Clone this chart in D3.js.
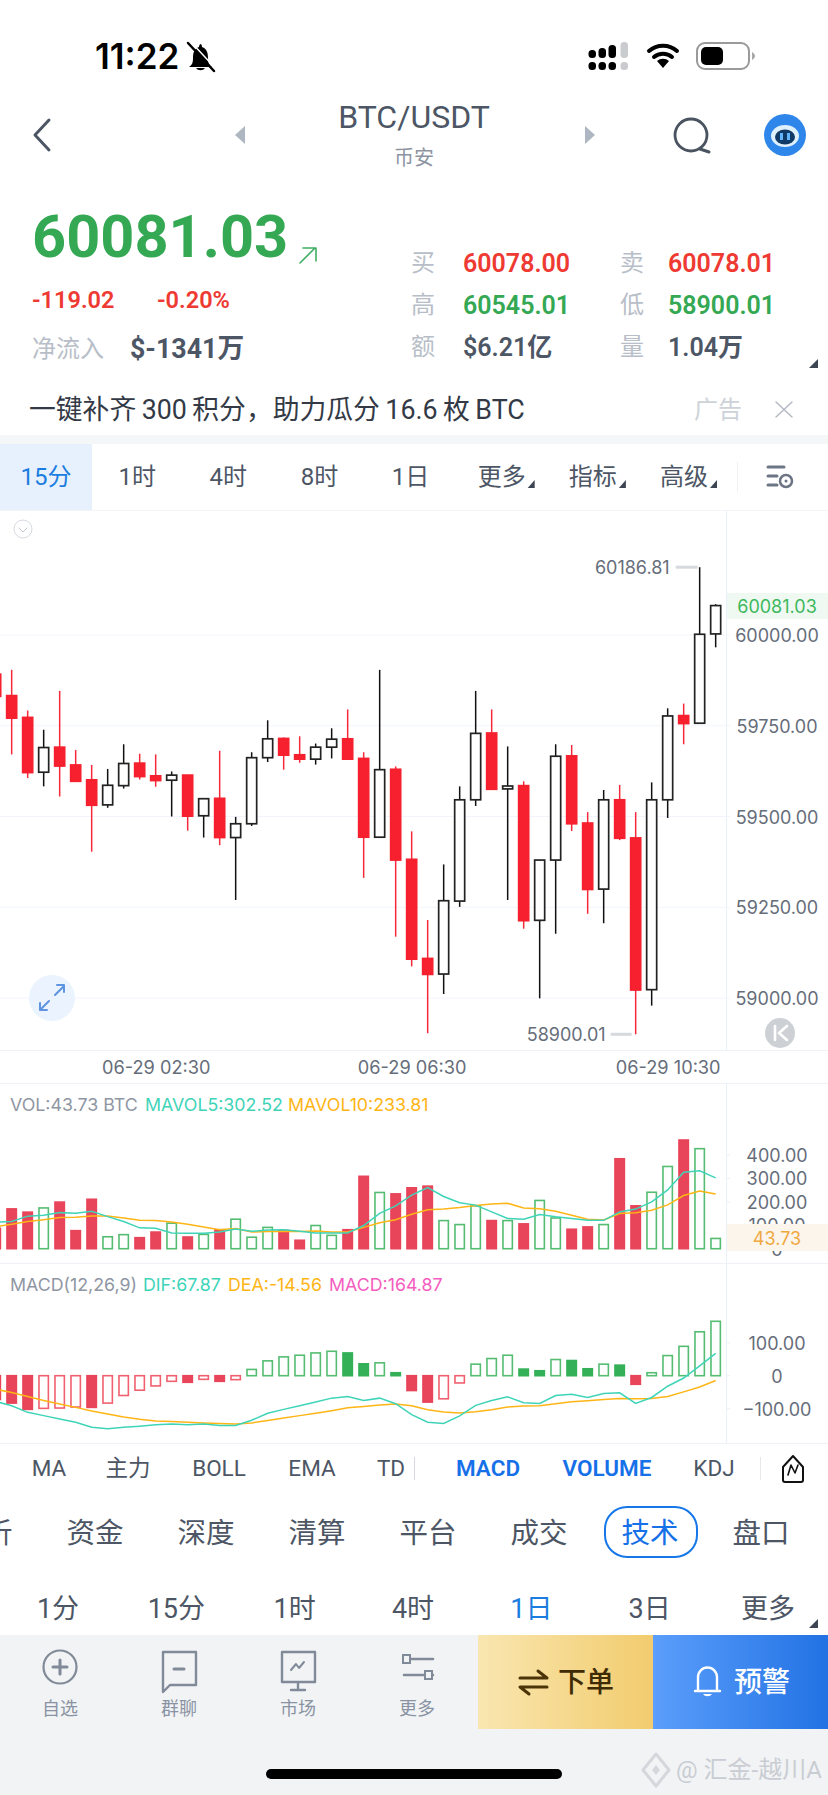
<!DOCTYPE html>
<html>
<head>
<meta charset="utf-8">
<script src="https://cdn.jsdelivr.net/npm/d3@7"></script>
<style>
  html, body { margin: 0; padding: 0; background: #fff; }
  svg { display: block; }
</style>
</head>
<body>
<svg id="chart"></svg>
<script>
// Candles, oldest first. The first one sits mostly off the left edge.
const candleOpen = [59892,59833,59773,59622,59691,59642,59601,59532,59585,59647,59612,59600,59614,59502,59550,59442,59480,59662,59715,59670,59658,59691,59714,59660,59443,59630,59382,59109,59066,59267,59546,59730,59576,59585,59214,59380,59667,59482,59300,59546,59441,59023,59546,59778,59757,60003];
const candleHigh = [59892,59904,59792,59739,59846,59683,59642,59631,59699,59673,59671,59624,59614,59549,59681,59499,59677,59765,59718,59721,59701,59743,59795,59677,59904,59638,59459,59215,59368,59583,59846,59795,59693,59597,59380,59699,59697,59512,59573,59587,59512,59594,59798,59811,60186.81,60085];
const candleLow = [59831,59671,59606,59583,59555,59597,59403,59524,59577,59602,59582,59500,59461,59442,59421,59270,59474,59650,59629,59648,59643,59660,59658,59331,59443,59169,59087,58903,59011,59251,59529,59575,59270,59191,58999,59177,59460,59232,59206,59435,58900.01,58979,59496,59699,59757,59966];
const candleClose = [59831,59771,59621,59690,59639,59597,59531,59586,59646,59610,59599,59614,59501,59549,59442,59480,59662,59714,59669,59658,59691,59713,59658,59443,59629,59380,59107,59065,59268,59546,59729,59575,59584,59213,59380,59666,59480,59299,59546,59440,59022,59546,59777,59756,60002,60081.03];

const volume = [87,170,156,174,199,77,211,51,60,47,71,109,50,61,81,126,49,91,78,36,99,57,81,309,240,234,260,267,120,103,183,120,120,106,206,131,83,93,103,384,183,241,351,464,427,43.73];
const mavol5 = [113,116,139,143,154,151,160,137,116,89,87,67,66,66,71,84,74,80,81,74,67,67,67,99,151,183,229,261,223,196,186,157,129,126,146,136,129,121,121,157,169,200,251,326,333,302.52];
const mavol10 = [94,104,116,124,133,134,140,140,131,121,120,114,104,93,81,86,71,73,74,73,76,71,71,91,111,124,147,166,170,176,184,191,194,174,171,160,143,126,123,150,153,164,187,227,246,233.81];

const macd = [-72,-83,-102,-99,-98,-95,-96,-83,-60,-44,-31,-17,-20,-11,-17,-12,19,45,57,62,69,74,69,36,39,9,-45,-80,-70,-22,35,52,62,20,15,49,46,21,35,32,-26,9,61,89,133,164.87];
const dif = [-78,-91,-111,-121,-131,-141,-156,-161,-156,-153,-149,-146,-149,-146,-151,-151,-135,-114,-102,-91,-80,-68,-63,-75,-68,-85,-118,-141,-145,-122,-90,-75,-64,-82,-84,-60,-56,-66,-54,-52,-84,-66,-32,-7,30,67.87];
const dea = [-41,-51,-63,-75,-86,-96,-107,-116,-125,-132,-137,-139,-141,-143,-145,-146,-143,-136,-128,-121,-114,-106,-97,-93,-89,-86,-91,-103,-110,-113,-109,-103,-95,-92,-91,-85,-79,-76,-72,-69,-70,-69,-63,-49,-34,-14.56];

const priceTicks = [59000,59250,59500,59750,60000];
const volumeTicks = [0,100,200,300,400];
const macdTicks = [-100,0,100];
const timeTickIndex = [10,26,42];
const timeTickLabels = ['06-29 02:30','06-29 06:30','06-29 10:30'];

const periodTabs = ['15分','1时','4时','8时','1日','更多','指标','高级'];
const indicatorTabs = ['MA','主力','BOLL','EMA','TD','MACD','VOLUME','KDJ'];
const activeIndicators = ['MACD','VOLUME'];
const sectionTabs = ['分析','资金','深度','清算','平台','成交','技术','盘口'];
const rangeTabs = ['1分','15分','1时','4时','1日','3日','更多'];
const footerTabs = ['自选','群聊','市场','更多'];

const width = 828, height = 1795;
const gray = '#4d5665', muted = '#b8bec8', red = '#ee3a32', green = '#34a853';
const cnFont = 'Roboto, "Noto Sans CJK SC", sans-serif';

const svg = d3.select('#chart').attr('width', width).attr('height', height);

const defs = svg.append('defs');
function gradient(id, from, to) {
    const g = defs.append('linearGradient').attr('id', id);
    g.append('stop').attr('offset', '0%').attr('stop-color', from);
    g.append('stop').attr('offset', '100%').attr('stop-color', to);
}
gradient('gold', '#f9e6b0', '#f2cc6e');
gradient('blue', '#5b9efb', '#2272e4');

function label(x, y, txt, size, color, opts = {}) {
    return svg.append('text')
        .attr('x', x).attr('y', y)
        .attr('dominant-baseline', 'central')
        .attr('text-anchor', opts.anchor || 'middle')
        .attr('font-size', size)
        .attr('font-weight', opts.weight || 400)
        .attr('fill', color)
        .style('font-family', opts.font || cnFont)
        .text(txt);
}

function box(x, y, w, h, fill) {
    return svg.append('rect').attr('x', x).attr('y', y).attr('width', w).attr('height', h).attr('fill', fill);
}

function icon(d, fill, stroke, sw) {
    return svg.append('path').attr('d', d).attr('fill', fill || 'none')
        .attr('stroke', stroke || 'none').attr('stroke-width', sw || 0)
        .attr('stroke-linecap', 'round').attr('stroke-linejoin', 'round');
}

// ---- status bar ----
label(95, 56, '11:22', 35, '#000', { anchor: 'start', weight: 600, font: 'Inter, sans-serif' });
icon('M201 44c-1 0-2 1-2 3-5 2-6 6-6 11 0 5-1 7-4 9h23c-3-2-4-4-4-9 0-5-1-9-6-11 0-2-1-3-1-3z', '#000');
icon('M196 68a5 4 0 0 0 9 0z', '#000');
icon('M188 43l26 28', 'none', '#000', 2.5);
icon('M191 42l26 28', 'none', '#fff', 1.5);

const sigCols = [592, 602, 612, 624];
const sigTops = [50, 48, 45, 42];
sigCols.forEach((x, c) => {
    const col = c === 3 ? '#c9cbce' : '#000';
    svg.append('rect').attr('x', x - 3.5).attr('y', sigTops[c]).attr('width', 7.5).attr('height', 58 - sigTops[c]).attr('rx', 3.5).attr('fill', col);
    svg.append('rect').attr('x', x - 3.5).attr('y', 62).attr('width', 7.5).attr('height', 8).attr('rx', 3.5).attr('fill', col);
});
icon('M649 51a21 21 0 0 1 28 0M654 57a14 14 0 0 1 18 0', 'none', '#000', 4);
icon('M657 61a9 9 0 0 1 12 0l-6 7z', '#000');
svg.append('rect').attr('x', 697).attr('y', 43).attr('width', 52).attr('height', 26).attr('rx', 8).attr('fill', '#fff').attr('stroke', '#9a9a9a').attr('stroke-width', 2);
svg.append('rect').attr('x', 701).attr('y', 47).attr('width', 22).attr('height', 18).attr('rx', 5).attr('fill', '#000');
icon('M752 52c2 1 3 3 3 4s-1 3-3 4z', '#a8a8a8');

// ---- title row ----
icon('M49 120L35 135L49 150', 'none', gray, 3);
icon('M245 126v18l-10-9z', '#aeb6c2');
icon('M585 126v18l10-9z', '#aeb6c2');
label(414, 117, 'BTC/USDT', 32, gray, { weight: 400 });
label(414, 158, '币安', 20, '#8c94a2');
svg.append('circle').attr('cx', 691).attr('cy', 135).attr('r', 16).attr('fill', 'none').attr('stroke', '#4a5360').attr('stroke-width', 2.8);
icon('M700 149l9 3', 'none', '#4a5360', 3);
svg.append('circle').attr('cx', 785).attr('cy', 135).attr('r', 21).attr('fill', '#2f86ea');
svg.append('ellipse').attr('cx', 785).attr('cy', 136).attr('rx', 14).attr('ry', 11).attr('fill', '#dff0fd');
svg.append('ellipse').attr('cx', 785).attr('cy', 137).attr('rx', 10).attr('ry', 7.5).attr('fill', '#123a66');
svg.append('rect').attr('x', 780).attr('y', 133).attr('width', 3).attr('height', 7).attr('fill', '#5fb6ff');
svg.append('rect').attr('x', 787).attr('y', 133).attr('width', 3).attr('height', 7).attr('fill', '#5fb6ff');

// ---- quote block ----
label(32, 237, '60081.03', 59.5, green, { anchor: 'start', weight: 700 });
icon('M300 263L315 248M303 248H316V261', 'none', '#3fae62', 1.6);
label(32, 300, '-119.02', 23.5, red, { anchor: 'start', weight: 600 });
label(157, 300, '-0.20%', 23.5, red, { anchor: 'start', weight: 600 });
label(32, 349, '净流入', 24, muted, { anchor: 'start' });
label(130, 349, '$-1341万', 26.8, gray, { anchor: 'start', weight: 700 });

label(411, 263, '买', 24, muted, { anchor: 'start' });
label(463, 263, '60078.00', 25, red, { anchor: 'start', weight: 600 });
label(620, 263, '卖', 24, muted, { anchor: 'start' });
label(668, 263, '60078.01', 25, red, { anchor: 'start', weight: 600 });
label(411, 305, '高', 24, muted, { anchor: 'start' });
label(463, 305, '60545.01', 25, green, { anchor: 'start', weight: 600 });
label(620, 305, '低', 24, muted, { anchor: 'start' });
label(668, 305, '58900.01', 25, green, { anchor: 'start', weight: 600 });
label(411, 347, '额', 24, muted, { anchor: 'start' });
label(463, 347, '$6.21亿', 25, gray, { anchor: 'start', weight: 600 });
label(620, 347, '量', 24, muted, { anchor: 'start' });
label(668, 347, '1.04万', 25, gray, { anchor: 'start', weight: 600 });
icon('M818 359v9h-9z', '#3d4552');

// ---- ad strip ----
label(29, 410, '一键补齐\u2009300\u2009积分，助力瓜分\u200916.6\u2009枚\u2009BTC', 26.8, '#333a46', { anchor: 'start' });
label(718, 410, '广告', 24, '#cdd2d9');
icon('M776 402L792 417M792 402L776 417', 'none', '#b4bac3', 1.5);
box(0, 435, width, 9, '#f5f6f7');

// ---- period tabs ----
box(0, 444, 92, 66, '#e7f1fd');
const tabX = d3.scalePoint().domain(periodTabs).range([46, 684]);
periodTabs.forEach((d, i) => label(tabX(d), 477, d, 24, i === 0 ? '#1b7de0' : gray));
periodTabs.slice(5).forEach(d => icon(`M${tabX(d) + 33} 480v8h-7z`, '#3d4552'));
box(737, 462, 1, 30, '#eef0f3');
icon('M768 467h16M768 476h9M768 485h9', 'none', '#6c7583', 3);
svg.append('circle').attr('cx', 786).attr('cy', 481).attr('r', 6).attr('fill', 'none').attr('stroke', '#6c7583').attr('stroke-width', 2.5);
svg.append('circle').attr('cx', 786).attr('cy', 481).attr('r', 1.5).attr('fill', '#6c7583');

// ---- scales ----
const axisX = 726;
const x = d3.scaleLinear().domain([0, 45]).range([-4.33, 715.67]);
const yPrice = d3.scaleLinear().domain([59000, 60000]).range([998, 635]);
const yVol = d3.scaleLinear().domain([0, 400]).range([1248.7, 1155]);
const yMacd = d3.scaleLinear().domain([-100, 100]).range([1408.7, 1342.7]);
const bodyW = 10;

// panel frame
[1050, 1083, 1263, 1443].forEach(y => box(0, y, width, 1, '#eef2f7'));
box(axisX, 510, 1, 540, '#e8f0fa');
box(axisX, 1083, 1, 360, '#e8f0fa');
box(0, 510, width, 1, '#f2f4f7');

// ---- price panel ----
svg.append('g').selectAll('line').data(priceTicks).join('line')
    .attr('x1', 0).attr('x2', axisX + 4)
    .attr('y1', d => yPrice(d)).attr('y2', d => yPrice(d))
    .attr('stroke', '#f1f5fb').attr('stroke-width', 1);

svg.append('circle').attr('cx', 23).attr('cy', 529).attr('r', 9).attr('fill', 'none').attr('stroke', '#d6dae0').attr('stroke-width', 1);
icon('M19 528l4 4l4-4', 'none', '#c3c8d0', 1);
svg.append('circle').attr('cx', 52).attr('cy', 998).attr('r', 23).attr('fill', '#eaf3fe');
icon('M55 995l9-9M57 985h7v7M49 1001l-9 9M40 1003v7h7', 'none', '#5e94e0', 2);

const candles = candleOpen.map((o, i) => ({
    i, open: o, high: candleHigh[i], low: candleLow[i], close: candleClose[i], up: candleClose[i] >= o
}));

const candleG = svg.append('g');
candleG.selectAll('.wick').data(candles).join('line')
    .attr('class', 'wick')
    .attr('x1', d => x(d.i)).attr('x2', d => x(d.i))
    .attr('y1', d => yPrice(d.high)).attr('y2', d => yPrice(d.low))
    .attr('stroke', d => d.up ? '#111' : '#f5293a').attr('stroke-width', 1.5);
candleG.selectAll('.body').data(candles).join('rect')
    .attr('class', 'body')
    .attr('x', d => x(d.i) - bodyW / 2)
    .attr('width', bodyW)
    .attr('y', d => yPrice(Math.max(d.open, d.close)))
    .attr('height', d => Math.abs(yPrice(d.open) - yPrice(d.close)))
    .attr('fill', d => d.up ? '#fff' : '#f6202e')
    .attr('stroke', d => d.up ? '#222' : '#f6202e').attr('stroke-width', 1.7);

const axisFont = 'Inter, sans-serif';
function styleAxis(g, cx) {
    g.select('.domain').remove();
    g.selectAll('.tick line').remove();
    g.selectAll('.tick text')
        .attr('x', cx).attr('dy', null).attr('dominant-baseline', 'central')
        .attr('text-anchor', 'middle').attr('fill', '#666d7a')
        .attr('font-size', 18).style('font-family', axisFont);
}
svg.append('g').attr('transform', `translate(${axisX},0)`)
    .call(d3.axisRight(yPrice).tickValues(priceTicks).tickFormat(d3.format('.2f')))
    .call(g => styleAxis(g, 51));

// current price badge
box(axisX + 1, 593, width - axisX, 26, '#eff8f1');
label(777, 606, '60081.03', 18, '#3cb85d', { font: axisFont });

// extreme price markers
const hiIdx = d3.maxIndex(candles, d => d.high);
const loIdx = d3.minIndex(candles, d => d.low);
label(x(hiIdx) - 30, yPrice(candles[hiIdx].high), d3.format('.2f')(candles[hiIdx].high), 18, '#666d7a', { anchor: 'end', font: axisFont });
box(x(hiIdx) - 24, yPrice(candles[hiIdx].high) - 1.5, 22, 3, '#d6d9dd');
label(x(loIdx) - 30, yPrice(candles[loIdx].low), d3.format('.2f')(candles[loIdx].low), 18, '#666d7a', { anchor: 'end', font: axisFont });
box(x(loIdx) - 25, yPrice(candles[loIdx].low) - 1.5, 21, 3, '#d6d9dd');

svg.append('circle').attr('cx', 780).attr('cy', 1033).attr('r', 15).attr('fill', '#cdd0d4');
icon('M775 1026v14M787 1026l-8 7l8 7', 'none', '#fff', 2.6);

// time axis
svg.append('g').attr('transform', 'translate(0,1067)')
    .call(d3.axisBottom(x).tickValues(timeTickIndex).tickFormat((d, i) => timeTickLabels[i]))
    .call(g => {
        g.select('.domain').remove();
        g.selectAll('.tick line').remove();
        g.selectAll('.tick text').attr('y', 0).attr('dy', null).attr('dominant-baseline', 'central')
            .attr('fill', '#666d7a').attr('font-size', 18.2).style('font-family', axisFont);
    });

// ---- volume panel ----
function legend(y, items) {
    items.forEach(it => label(it[0], y, it[1], 17.8, it[2], { anchor: 'start', font: axisFont }));
}
legend(1104, [
    [10, 'VOL:43.73 BTC', '#8f96a3'],
    [145, 'MAVOL5:302.52', '#3fd4b8'],
    [288, 'MAVOL10:233.81', '#ffb516']
]);

const barW = 9.4;
svg.append('g').selectAll('rect').data(volume).join('rect')
    .attr('x', (d, i) => x(i) - barW / 2).attr('width', barW)
    .attr('y', d => yVol(d)).attr('height', d => yVol(0) - yVol(d))
    .attr('fill', (d, i) => candles[i].up ? '#fff' : '#e8455a')
    .attr('stroke', (d, i) => candles[i].up ? '#55bd72' : '#e8455a').attr('stroke-width', 1.6);

const volLine = d3.line().x((d, i) => x(i)).y(d => yVol(d));
svg.append('path').attr('d', volLine(mavol10)).attr('fill', 'none').attr('stroke', '#ffb516').attr('stroke-width', 1.5);
svg.append('path').attr('d', volLine(mavol5)).attr('fill', 'none').attr('stroke', '#3fd4b8').attr('stroke-width', 1.5);

svg.append('g').attr('transform', `translate(${axisX},0)`)
    .call(d3.axisRight(yVol).tickValues(volumeTicks).tickFormat(d => d === 0 ? '0' : d3.format('.2f')(d)))
    .call(g => styleAxis(g, 51));
box(axisX + 1, 1224, width - axisX, 27, '#fbf5ec');
label(777, 1238, '43.73', 18, '#f0a840', { font: axisFont });

// ---- macd panel ----
legend(1284, [
    [10, 'MACD(12,26,9)', '#8f96a3'],
    [143, 'DIF:67.87', '#3fd4b8'],
    [228, 'DEA:-14.56', '#ffb516'],
    [329, 'MACD:164.87', '#f55cc0']
]);

svg.append('g').selectAll('rect').data(macd).join('rect')
    .attr('x', (d, i) => x(i) - barW / 2).attr('width', barW)
    .attr('y', d => Math.min(yMacd(d), yMacd(0)))
    .attr('height', d => Math.abs(yMacd(d) - yMacd(0)))
    // solid bars are the ones falling against the previous bar
    .attr('fill', (d, i) => (i > 0 && d >= macd[i - 1]) ? '#fff' : (d >= 0 ? '#34b058' : '#e8455a'))
    .attr('stroke', (d, i) => {
        const solid = !(i > 0 && d >= macd[i - 1]);
        if (d >= 0) return solid ? '#34b058' : '#55bd72';
        return solid ? '#e8455a' : '#f0606f';
    })
    .attr('stroke-width', 1.6);

const macdLine = d3.line().x((d, i) => x(i)).y(d => yMacd(d));
svg.append('path').attr('d', macdLine(dea)).attr('fill', 'none').attr('stroke', '#ffb516').attr('stroke-width', 1.5);
svg.append('path').attr('d', macdLine(dif)).attr('fill', 'none').attr('stroke', '#3fd4b8').attr('stroke-width', 1.5);

svg.append('g').attr('transform', `translate(${axisX},0)`)
    .call(d3.axisRight(yMacd).tickValues(macdTicks).tickFormat(d => d === 0 ? '0' : d3.format('.2f')(d)))
    .call(g => styleAxis(g, 51));

// small axis ticks beside the lower panels
svg.append('g').selectAll('line')
    .data(volumeTicks.slice(2).map(d => yVol(d)).concat(macdTicks.map(d => yMacd(d))))
    .join('line')
    .attr('x1', axisX).attr('x2', axisX + 4).attr('y1', d => d).attr('y2', d => d)
    .attr('stroke', '#e8f0fa');

// ---- indicator bar ----
const indicatorX = [49, 128, 219, 312, 391, 488, 607, 714];
indicatorTabs.forEach((d, i) => {
    const on = activeIndicators.includes(d);
    label(indicatorX[i], 1468, d, 22.5, on ? '#1670e8' : gray, { weight: on ? 600 : 400 });
});
box(414, 1457, 1, 23, '#d5d9df');
box(760, 1457, 1, 23, '#e6e8ec');
icon('M793 1456l-10 11v13a2 2 0 0 0 2 2h16a2 2 0 0 0 2-2v-13z', '#fff', '#111', 2);
icon('M788 1475l3-10l4 8l3-8', 'none', '#111', 1.6);

// ---- section tabs ----
const sectionX = d3.scalePoint().domain(sectionTabs).range([-16, 761]);
svg.append('rect').attr('x', 605).attr('y', 1507).attr('width', 92).attr('height', 50).attr('rx', 22)
    .attr('fill', '#fff').attr('stroke', '#1677e8').attr('stroke-width', 2);
sectionTabs.forEach(d => label(sectionX(d), 1533, d, 28.5, d === '技术' ? '#1670e8' : gray));

// ---- range tabs ----
const rangeX = d3.scalePoint().domain(rangeTabs).range([58, 768]);
rangeTabs.forEach(d => label(rangeX(d), 1609, d, 27, d === '1日' ? '#1b7de0' : gray));
icon('M818 1619v9h-9z', '#3d4552');

// ---- footer ----
box(0, 1635, width, 160, '#f2f3f5');
const footerX = d3.scalePoint().domain(footerTabs).range([60, 417]);
footerTabs.forEach(d => label(footerX(d), 1708, d, 18, '#8a93a3'));
const iconC = '#808a98';
svg.append('circle').attr('cx', 60).attr('cy', 1667).attr('r', 16.5).attr('fill', 'none').attr('stroke', iconC).attr('stroke-width', 2.2);
icon('M53 1667h14M60 1660v14', 'none', iconC, 3);
icon('M163 1652h33v33h-26l-7 7z', 'none', iconC, 2.4);
icon('M174 1669h10', 'none', iconC, 3);
icon('M282 1652h33v30h-33zM298 1682v7M291 1690h14', 'none', iconC, 2.4);
icon('M291 1670l5-6l3 4l5-6', 'none', iconC, 2);
icon('M404 1659h29M404 1675h29', 'none', iconC, 2.6);
svg.append('rect').attr('x', 403).attr('y', 1655).attr('width', 7).attr('height', 8).attr('fill', '#f2f3f5').attr('stroke', iconC).attr('stroke-width', 2);
svg.append('rect').attr('x', 425).attr('y', 1671).attr('width', 7).attr('height', 8).attr('fill', '#f2f3f5').attr('stroke', iconC).attr('stroke-width', 2);

box(478, 1635, 175, 94, 'url(#gold)');
box(653, 1635, 175, 94, 'url(#blue)');
icon('M520 1678h27l-9-7M547 1687h-27l9 7', 'none', '#4a3408', 3);
label(586, 1682, '下单', 28, '#3f2c05', { weight: 500 });
icon('M698 1691v-14a9.5 9.5 0 0 1 19 0v14M695 1691h25', 'none', '#fff', 2.4);
icon('M703 1694a5 4 0 0 0 9 0z', '#fff');
label(762, 1682, '预警', 28, '#fff', { weight: 500 });

svg.append('rect').attr('x', 266).attr('y', 1769).attr('width', 296).attr('height', 10).attr('rx', 5).attr('fill', '#000');

// watermark
icon('M656 1754l13 16l-13 16l-13-16z', 'none', '#d4d7dc', 3);
icon('M656 1765l4 5l-4 5l-4-5z', '#d4d7dc');
label(676, 1770, '@ 汇金-越川A', 24, '#c9cdd3', { anchor: 'start' });
</script>
</body>
</html>
